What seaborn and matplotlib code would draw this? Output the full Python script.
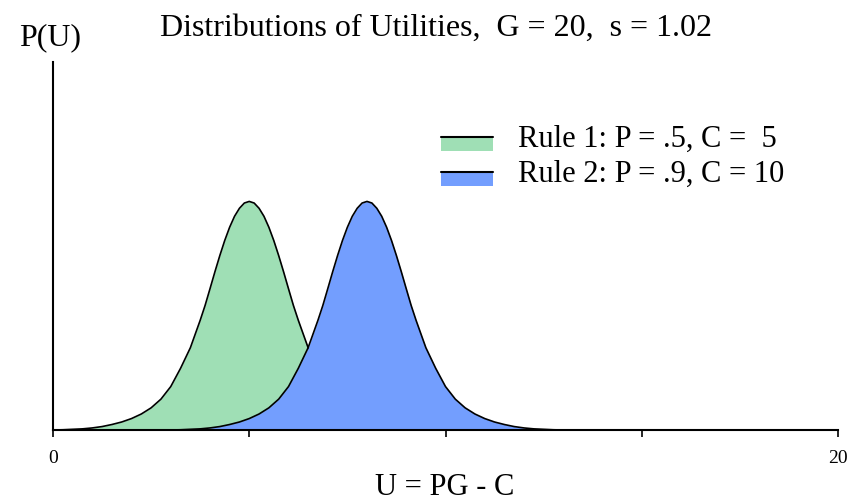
import matplotlib
matplotlib.use('Agg')
import matplotlib.pyplot as plt
import seaborn as sns
from matplotlib.patches import Patch, Rectangle
from matplotlib.lines import Line2D
from matplotlib.legend_handler import HandlerBase

# Utility values and relative heights
rule1_u = [0.0, 0.25, 0.5, 0.75, 1.0, 1.25, 1.5, 1.75, 2.0, 2.25, 2.5, 2.75, 3.0, 3.25, 3.5,
           3.625, 3.75, 3.875, 4.0, 4.125, 4.25, 4.375, 4.5, 4.625, 4.75, 4.875, 5.0,
           5.125, 5.25, 5.375, 5.5, 5.625, 5.75, 5.875, 6.0, 6.125, 6.25, 6.375, 6.5,
           6.75, 7.0, 7.25, 7.5, 7.75, 8.0, 8.25, 8.5, 8.75, 9.0, 9.25, 9.5, 9.75, 10.0]
rule2_u = [3.0, 3.25, 3.5, 3.75, 4.0, 4.25, 4.5, 4.75, 5.0, 5.25, 5.5, 5.75, 6.0, 6.25, 6.5,
           6.625, 6.75, 6.875, 7.0, 7.125, 7.25, 7.375, 7.5, 7.625, 7.75, 7.875, 8.0,
           8.125, 8.25, 8.375, 8.5, 8.625, 8.75, 8.875, 9.0, 9.125, 9.25, 9.375, 9.5,
           9.75, 10.0, 10.25, 10.5, 10.75, 11.0, 11.25, 11.5, 11.75, 12.0, 12.25, 12.5, 12.75, 13.0]
rule1_p = [0.0, 0.001, 0.003, 0.005, 0.009, 0.015, 0.024, 0.035, 0.05, 0.07, 0.097, 0.135, 0.19,
           0.27, 0.36, 0.42, 0.48, 0.545, 0.618, 0.692, 0.763, 0.829, 0.887, 0.935, 0.970, 0.993,
           1.000, 0.993, 0.970, 0.935, 0.887, 0.829, 0.763, 0.692, 0.618, 0.545, 0.48, 0.42, 0.36,
           0.27, 0.19, 0.135, 0.097, 0.07, 0.05, 0.035, 0.024, 0.015, 0.009, 0.005, 0.003, 0.001, 0.0]
rule2_p = [0.0, 0.001, 0.003, 0.005, 0.009, 0.015, 0.024, 0.035, 0.05, 0.07, 0.097, 0.135, 0.19,
           0.27, 0.36, 0.42, 0.48, 0.545, 0.618, 0.692, 0.763, 0.829, 0.887, 0.935, 0.970, 0.993,
           1.000, 0.993, 0.970, 0.935, 0.887, 0.829, 0.763, 0.692, 0.618, 0.545, 0.48, 0.42, 0.36,
           0.27, 0.19, 0.135, 0.097, 0.07, 0.05, 0.035, 0.024, 0.015, 0.009, 0.005, 0.003, 0.001, 0.0]
labels = ["Rule 1: P = .5, C =  5", "Rule 2: P = .9, C = 10"]
colors = ["#9fdfb5", "#739efe"]

sns.set_style("white")
plt.rcParams['font.family'] = ['Liberation Serif', 'DejaVu Serif']
plt.rcParams['text.color'] = 'black'
plt.rcParams['xtick.color'] = 'black'

fig = plt.figure(figsize=(8.53, 5.02), dpi=100)
ax = fig.add_axes([53 / 853, 71 / 502, 785 / 853, 368 / 502])

# green first, blue drawn over it (hides green's right outline)
z = 1
for u, p, c in [(rule1_u, rule1_p, colors[0]), (rule2_u, rule2_p, colors[1])]:
    ax.fill_between(u, 0, p, color=c, linewidth=0, zorder=z)
    sns.lineplot(x=u, y=p, color="black", linewidth=1.2, ax=ax, zorder=z + 1)
    z += 2

ax.set_xlim(0, 20)
ax.set_ylim(0, 1.61)
ax.set_xticks([0, 5, 10, 15, 20])
ax.set_xticklabels(["0", "", "", "", "20"])
ax.set_yticks([])
ax.tick_params(axis='x', direction='out', length=5, width=1.2, pad=9, labelsize=14, bottom=True)
for s in ['top', 'right']:
    ax.spines[s].set_visible(False)
for s in ['left', 'bottom']:
    ax.spines[s].set_color('black')
    ax.spines[s].set_linewidth(1.5)
    ax.spines[s].set_zorder(10)
ax.set_xlabel("")
ax.set_ylabel("")


class TopLineHandler(HandlerBase):
    def create_artists(self, legend, orig_handle, xdescent, ydescent, width, height, fontsize, trans):
        y0 = -ydescent - 0.4 * height
        h = height * 0.8
        rect = Rectangle((-xdescent, y0), width, h,
                         facecolor=orig_handle.get_facecolor(), edgecolor='none', transform=trans)
        line = Line2D([-xdescent, -xdescent + width], [y0 + h, y0 + h],
                      color='black', linewidth=1.5, transform=trans)
        return [rect, line]


handles = [Patch(facecolor=c) for c in colors]
fig.legend(handles, labels, loc='upper left', bbox_to_anchor=(441 / 853, 1 - 125 / 502),
           frameon=False, fontsize=22, handlelength=1.7, handleheight=0.5, handletextpad=0.82,
           labelspacing=0.2, borderpad=0, borderaxespad=0,
           handler_map={Patch: TopLineHandler()})

fig.text(436 / 853, 1 - 36 / 502, "Distributions of Utilities,  G = 20,  s = 1.02",
         ha='center', va='baseline', fontsize=23)
fig.text(50 / 853, 1 - 45 / 502, "P(U)", ha='center', va='baseline', fontsize=23)
fig.text(445 / 853, 1 - 495 / 502, "U = PG - C", ha='center', va='baseline', fontsize=22)

fig.savefig("out.png", dpi=100)
